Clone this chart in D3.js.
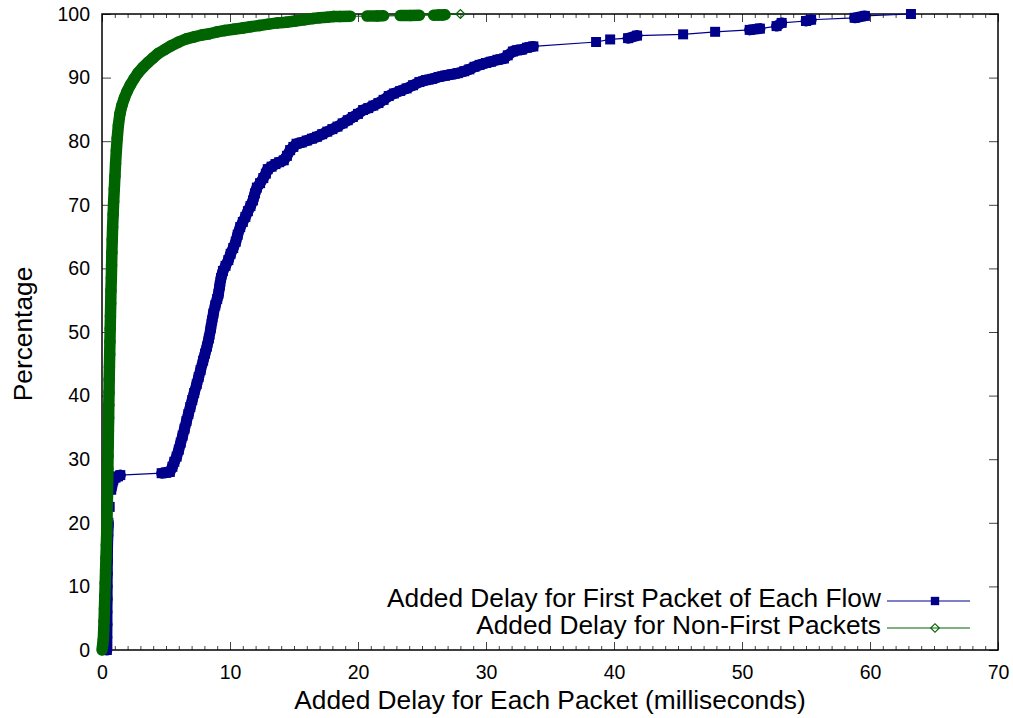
<!DOCTYPE html>
<html>
<head>
<meta charset="utf-8">
<script src="https://cdn.jsdelivr.net/npm/d3@7"></script>
<style>
body { margin: 0; background: #fff; }
svg { display: block; }
text { font-family: "Liberation Sans", Arial, sans-serif; fill: #000; }
</style>
</head>
<body>
<div id="chart"></div>
<script>
// delay (ms) and cumulative percentage
var firstDelay = [0.38, 0.38, 0.39, 0.39, 0.4, 0.4, 0.41, 0.42, 0.43, 0.46, 0.5, 0.6, 0.72, 0.88, 1.05, 1.25, 1.43,
  4.66, 5.0, 5.3, 5.5, 5.65, 5.83, 6.0, 6.15, 6.3, 6.45, 6.6, 6.75, 6.9, 7.05, 7.2, 7.4, 7.55, 7.7, 7.9, 8.05, 8.2, 8.35,
  8.5, 8.6, 8.7, 8.85, 9.0, 9.1, 9.2, 9.3, 9.45, 9.65, 9.87, 10.05, 10.25, 10.45, 10.6, 10.8, 11.0, 11.2, 11.4, 11.6,
  11.8, 11.95, 12.1, 12.35, 12.6, 12.8, 12.95, 13.25, 13.55, 13.85, 14.2, 14.45, 14.7, 14.95, 15.2, 15.6, 16.0, 16.4,
  16.8, 17.2, 17.6, 18.0, 18.4, 18.8, 19.2, 19.6, 20.0, 20.4, 20.8, 21.2, 21.6, 22.0, 22.4, 22.8, 23.3, 23.8, 24.3,
  24.8, 25.3, 25.8, 26.3, 26.8, 27.3, 27.8, 28.3, 28.7, 29.1, 29.5, 30.0, 30.4, 30.9, 31.4, 31.7, 32.1, 32.4, 32.8,
  33.2, 33.7, 38.6, 39.7, 41.1, 41.8, 45.4, 47.9, 50.6, 51.4, 52.7, 53.1, 55.0, 55.4, 58.8, 59.6, 63.2];
var firstPct = [0, 2, 4, 6, 8, 10, 12, 14, 16, 18, 20, 22.5, 25.2, 26.7, 27.1, 27.3, 27.5,
  27.8, 27.9, 28.0, 28.8, 29.6, 30.4, 31.5, 32.6, 33.7, 34.8, 36.0, 37.1, 38.2, 39.3, 40.4, 41.8, 42.9, 44.0, 45.5, 46.6,
  47.7, 49.0, 50.6, 51.8, 52.9, 54.2, 55.2, 56.0, 57.3, 58.5, 59.6, 60.4, 61.3, 62.3, 63.2, 64.2, 65.3, 66.5, 67.3,
  68.1, 69.0, 69.8, 70.7, 71.8, 72.7, 73.4, 74.2, 74.9, 75.6, 76.0, 76.4, 76.7, 77.0, 77.7, 78.6, 79.1, 79.6, 79.8,
  80.1, 80.4, 80.7, 81.1, 81.5, 81.9, 82.3, 82.8, 83.3, 83.8, 84.3, 84.9, 85.2, 85.6, 86.0, 86.5, 87.1, 87.5, 87.9,
  88.3, 88.8, 89.3, 89.6, 89.8, 90.1, 90.3, 90.5, 90.7, 91.0, 91.3, 91.7, 92.0, 92.3, 92.5, 92.8, 93.0, 93.5, 94.1,
  94.3, 94.4, 94.7, 94.9, 95.6, 96.0, 96.2, 96.6, 96.8, 97.2, 97.5, 97.7, 98.1, 98.6, 98.9, 99.1, 99.4, 99.7, 100];

var otherDelay = [0, 0.05, 0.1, 0.13, 0.16, 0.19, 0.22, 0.25, 0.28, 0.31, 0.34, 0.37, 0.39, 0.41, 0.43, 0.44, 0.46,
  0.47, 0.49, 0.5, 0.52, 0.53, 0.55, 0.56, 0.58, 0.6, 0.62, 0.64, 0.66, 0.68, 0.7, 0.73, 0.75, 0.77, 0.8, 0.83, 0.87,
  0.91, 0.96, 1.01, 1.06, 1.12, 1.19, 1.28, 1.4, 1.55, 1.75, 1.95, 2.2, 2.5, 2.8, 3.2, 3.6, 4.0, 4.4, 4.9, 5.4, 6.0,
  6.6, 7.2, 7.8, 8.4, 9.0, 9.6, 10.3, 11.0, 11.6, 12.3, 13.0, 13.7, 14.4, 15.1, 15.8, 16.5, 17.0, 17.6, 18.1,
  18.6, 19.4, 20.7, 21.5, 22.0, 23.3, 24.1, 24.8, 25.9, 26.3, 26.6, 26.8, 28.0];
var otherPct = [0, 0.8, 1.6, 3, 4.5, 6.5, 8.5, 10.5, 12.5, 14.5, 16.5, 18.5, 20.5, 22.5, 24.5, 26.5, 28.5,
  30.5, 32.5, 34.5, 36.5, 38.5, 40.5, 42.5, 44.5, 46.5, 48.5, 50.5, 52.5, 54.5, 56.5, 58.5, 60.5, 62.5, 64.5, 66.5, 68.5,
  70.5, 72.5, 74.5, 76.5, 78.5, 80.5, 82.5, 84.3, 85.6, 86.8, 87.8, 88.8, 89.8, 90.7, 91.6, 92.4, 93.1, 93.8, 94.4, 95.0, 95.6,
  96.1, 96.4, 96.7, 96.9, 97.2, 97.4, 97.6, 97.8, 98.0, 98.2, 98.4, 98.6, 98.7, 98.9, 99.1, 99.3, 99.4, 99.5, 99.6,
  99.62, 99.65, 99.68, 99.7, 99.72, 99.75, 99.78, 99.8, 99.82, 99.84, 99.86, 99.88, 100];

var seriesNames = ["Added Delay for First Packet of Each Flow", "Added Delay for Non-First Packets"];
var xTicks = [0, 10, 20, 30, 40, 50, 60, 70];
var yTicks = [0, 10, 20, 30, 40, 50, 60, 70, 80, 90, 100];

var W = 1013, H = 718;
var margin = {top: 14, right: 15, bottom: 68, left: 102};
var width = W - margin.left - margin.right;
var height = H - margin.top - margin.bottom;

var blue = "#00008b", green = "#006400";

var svg = d3.select("#chart")
    .append("svg")
    .attr("width", W)
    .attr("height", H);

var g = svg.append("g")
    .attr("transform", "translate(" + margin.left + "," + margin.top + ")");

var x = d3.scaleLinear().domain([0, 70]).range([0, width]);
var y = d3.scaleLinear().domain([0, 100]).range([height, 0]);

// ticks point inward, gnuplot style, mirrored on all four sides
function styleAxis(sel) {
    sel.select(".domain").remove();
    sel.selectAll(".tick line").attr("stroke", "#444").attr("stroke-width", 1);
    sel.selectAll(".tick text")
        .style("font-family", "'Liberation Sans', Arial, sans-serif")
        .style("font-size", "19.5px")
        .attr("fill", "#000");
}

g.append("g")
    .attr("transform", "translate(0," + height + ")")
    .call(d3.axisBottom(x).ticks(70).tickSize(-4).tickFormat(""))
    .call(styleAxis);
g.append("g")
    .call(d3.axisTop(x).ticks(70).tickSize(-4).tickFormat(""))
    .call(styleAxis);

g.append("g")
    .attr("transform", "translate(0," + height + ")")
    .call(d3.axisBottom(x).tickValues(xTicks).tickSize(-8).tickPadding(15))
    .call(styleAxis);
g.append("g")
    .call(d3.axisTop(x).tickValues(xTicks).tickSize(-8).tickFormat(""))
    .call(styleAxis);

g.append("g")
    .call(d3.axisLeft(y).tickValues(yTicks).tickSize(-9).tickPadding(12))
    .call(styleAxis);
g.append("g")
    .attr("transform", "translate(" + width + ",0)")
    .call(d3.axisRight(y).tickValues(yTicks).tickSize(-9).tickFormat(""))
    .call(styleAxis);

g.append("rect")
    .attr("width", width)
    .attr("height", height)
    .attr("fill", "none")
    .attr("stroke", "#000")
    .attr("stroke-width", 1.5);

var line = d3.line()
    .x(function(d) { return x(d[0]); })
    .y(function(d) { return y(d[1]); });

function drawSeries(xs, ys, color, bandWidth, marker) {
    var pts = xs.map(function(v, i) { return [v, ys[i]]; });
    var layer = g.append("g");

    // where markers sit close enough to overlap they merge into a solid trail
    var segs = [];
    for (var i = 1; i < pts.length; i++) {
        var dx = x(pts[i][0]) - x(pts[i - 1][0]);
        var dy = y(pts[i][1]) - y(pts[i - 1][1]);
        if (Math.sqrt(dx * dx + dy * dy) < 13.5) segs.push([pts[i - 1], pts[i]]);
    }
    layer.selectAll(".band")
        .data(segs)
        .enter()
        .append("path")
        .attr("d", line)
        .attr("fill", "none")
        .attr("stroke", color)
        .attr("stroke-width", bandWidth)
        .attr("stroke-linecap", "round");

    layer.append("path")
        .datum(pts)
        .attr("d", line)
        .attr("fill", "none")
        .attr("stroke", color)
        .attr("stroke-width", 1.2);

    var m = layer.selectAll(".pt")
        .data(pts)
        .enter()
        .append("path")
        .attr("transform", function(d) {
            return "translate(" + x(d[0]) + "," + y(d[1]) + ")" + (marker == "diamond" ? " rotate(45)" : "");
        });
    if (marker == "square") {
        m.attr("d", d3.symbol().type(d3.symbolSquare).size(100)).attr("fill", color);
    } else {
        m.attr("d", d3.symbol().type(d3.symbolSquare).size(40))
            .attr("fill", "none")
            .attr("stroke", color)
            .attr("stroke-width", 1.2);
    }
}

drawSeries(firstDelay, firstPct, blue, 11, "square");
drawSeries(otherDelay, otherPct, green, 11.5, "diamond");

// legend
var legend = svg.append("g");
var legendRows = [
    {name: seriesNames[0], color: blue, marker: "square", ty: 607, ly: 601},
    {name: seriesNames[1], color: green, marker: "diamond", ty: 634, ly: 628}
];
legendRows.forEach(function(r) {
    legend.append("text")
        .attr("x", 881)
        .attr("y", r.ty)
        .attr("text-anchor", "end")
        .style("font-size", "26.3px")
        .text(r.name);
    legend.append("line")
        .attr("x1", 887).attr("x2", 970)
        .attr("y1", r.ly).attr("y2", r.ly)
        .attr("stroke", r.color)
        .attr("stroke-width", 1.2);
    var mk = legend.append("path")
        .attr("transform", "translate(935," + r.ly + ")" + (r.marker == "diamond" ? " rotate(45)" : ""));
    if (r.marker == "square") {
        mk.attr("d", d3.symbol().type(d3.symbolSquare).size(70)).attr("fill", r.color);
    } else {
        mk.attr("d", d3.symbol().type(d3.symbolSquare).size(36))
            .attr("fill", "none").attr("stroke", r.color).attr("stroke-width", 1.2);
    }
});

// axis titles
svg.append("text")
    .attr("x", margin.left + width / 2)
    .attr("y", 709)
    .attr("text-anchor", "middle")
    .style("font-size", "26.3px")
    .text("Added Delay for Each Packet (milliseconds)");

svg.append("text")
    .attr("transform", "translate(32,334) rotate(-90)")
    .attr("text-anchor", "middle")
    .style("font-size", "26.3px")
    .text("Percentage");
</script>
</body>
</html>
